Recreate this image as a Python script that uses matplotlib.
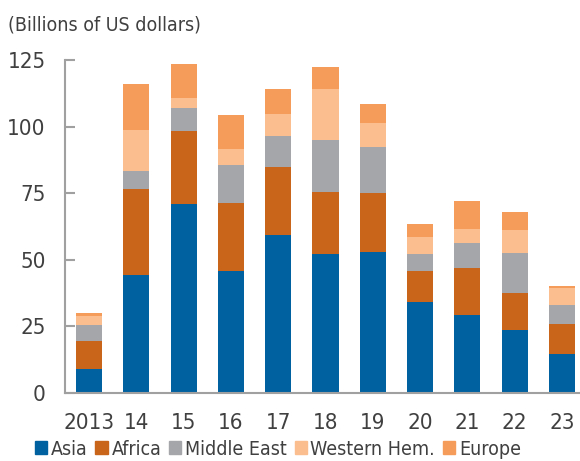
import matplotlib
matplotlib.use("Agg")
import matplotlib.pyplot as plt
import matplotlib.font_manager as fm
from matplotlib.patches import Patch

# Dati (miliardi di USD)
anni = ["2013", "14", "15", "16", "17", "18", "19", "20", "21", "22", "23"]
asia = [9.1, 44.4, 71.0, 45.9, 59.4, 52.1, 53.1, 34.3, 29.4, 23.6, 14.6]
africa = [10.6, 32.2, 27.4, 25.5, 25.5, 23.5, 22.0, 11.6, 17.4, 14.0, 11.4]
medio_oriente = [5.8, 6.8, 8.5, 14.3, 11.5, 19.4, 17.4, 6.2, 9.6, 14.9, 6.9]
emisfero_occ = [3.5, 15.4, 3.7, 5.8, 8.2, 19.1, 8.8, 6.6, 5.2, 8.6, 6.5]
europa = [1.2, 17.3, 12.8, 13.0, 9.5, 8.3, 7.1, 4.9, 10.6, 6.8, 0.6]

serie = [
    ("Asia", asia, "#0061a0"),
    ("Africa", africa, "#c8651b"),
    ("Middle East", medio_oriente, "#a5a6aa"),
    ("Western Hem.", emisfero_occ, "#fbbe8e"),
    ("Europe", europa, "#f69c5a"),
]

# Font stretto (tipo Arial Narrow) se disponibile
font_disp = [(f.name, f.stretch) for f in fm.fontManager.ttflist]
nomi = {n for n, _ in font_disp}
if "Liberation Sans Narrow" in nomi:
    plt.rcParams["font.family"] = ["Liberation Sans Narrow", "DejaVu Sans"]
    scala = 1.1
elif ("DejaVu Sans", "condensed") in font_disp or ("DejaVu Sans", 600) in font_disp:
    plt.rcParams["font.family"] = ["DejaVu Sans"]
    plt.rcParams["font.stretch"] = "condensed"
    scala = 1.0
else:
    plt.rcParams["font.family"] = ["Liberation Sans", "DejaVu Sans"]
    scala = 0.95

grigio_testo = "#404040"
grigio_asse = "#a0a0a0"

fig = plt.figure(figsize=(5.8, 4.61), dpi=100)
ax = fig.add_axes([65 / 580, 68 / 461, 515 / 580, 333 / 461])

x = list(range(len(anni)))
base = [0.0] * len(anni)
for nome, valori, colore in serie:
    ax.bar(x, valori, bottom=base, width=0.55, color=colore, label=nome)
    base = [b + v for b, v in zip(base, valori)]

ax.set_xlim(-0.507, 10.38)
ax.set_ylim(0, 125)
ax.set_yticks([0, 25, 50, 75, 100, 125])
ax.set_xticks(x)
ax.set_xticklabels(anni)

for lato in ["top", "right"]:
    ax.spines[lato].set_visible(False)
for lato in ["left", "bottom"]:
    ax.spines[lato].set_color(grigio_asse)
    ax.spines[lato].set_linewidth(1.5)

ax.tick_params(axis="y", direction="in", length=7, width=1.5, color=grigio_asse,
               labelsize=16 * scala, labelcolor=grigio_testo, pad=14)
ax.tick_params(axis="x", length=0, labelsize=16 * scala, labelcolor=grigio_testo, pad=14.5)

fig.text(8 / 580, 1 - 25 / 461, "(Billions of US dollars)", fontsize=14 * scala,
         color=grigio_testo, va="center", ha="left")

# Legenda su una riga sotto il grafico
maniglie = [Patch(color=c, label=n) for n, _, c in serie]
fig.legend(handles=maniglie, loc="center left", bbox_to_anchor=(35 / 580, 12 / 461),
           ncol=5, frameon=False, fontsize=14 * scala, labelcolor=grigio_testo,
           borderpad=0, borderaxespad=0,
           handlelength=0.62, handleheight=0.62, handletextpad=0.2, columnspacing=0.4)

fig.savefig("out.png", dpi=100)
